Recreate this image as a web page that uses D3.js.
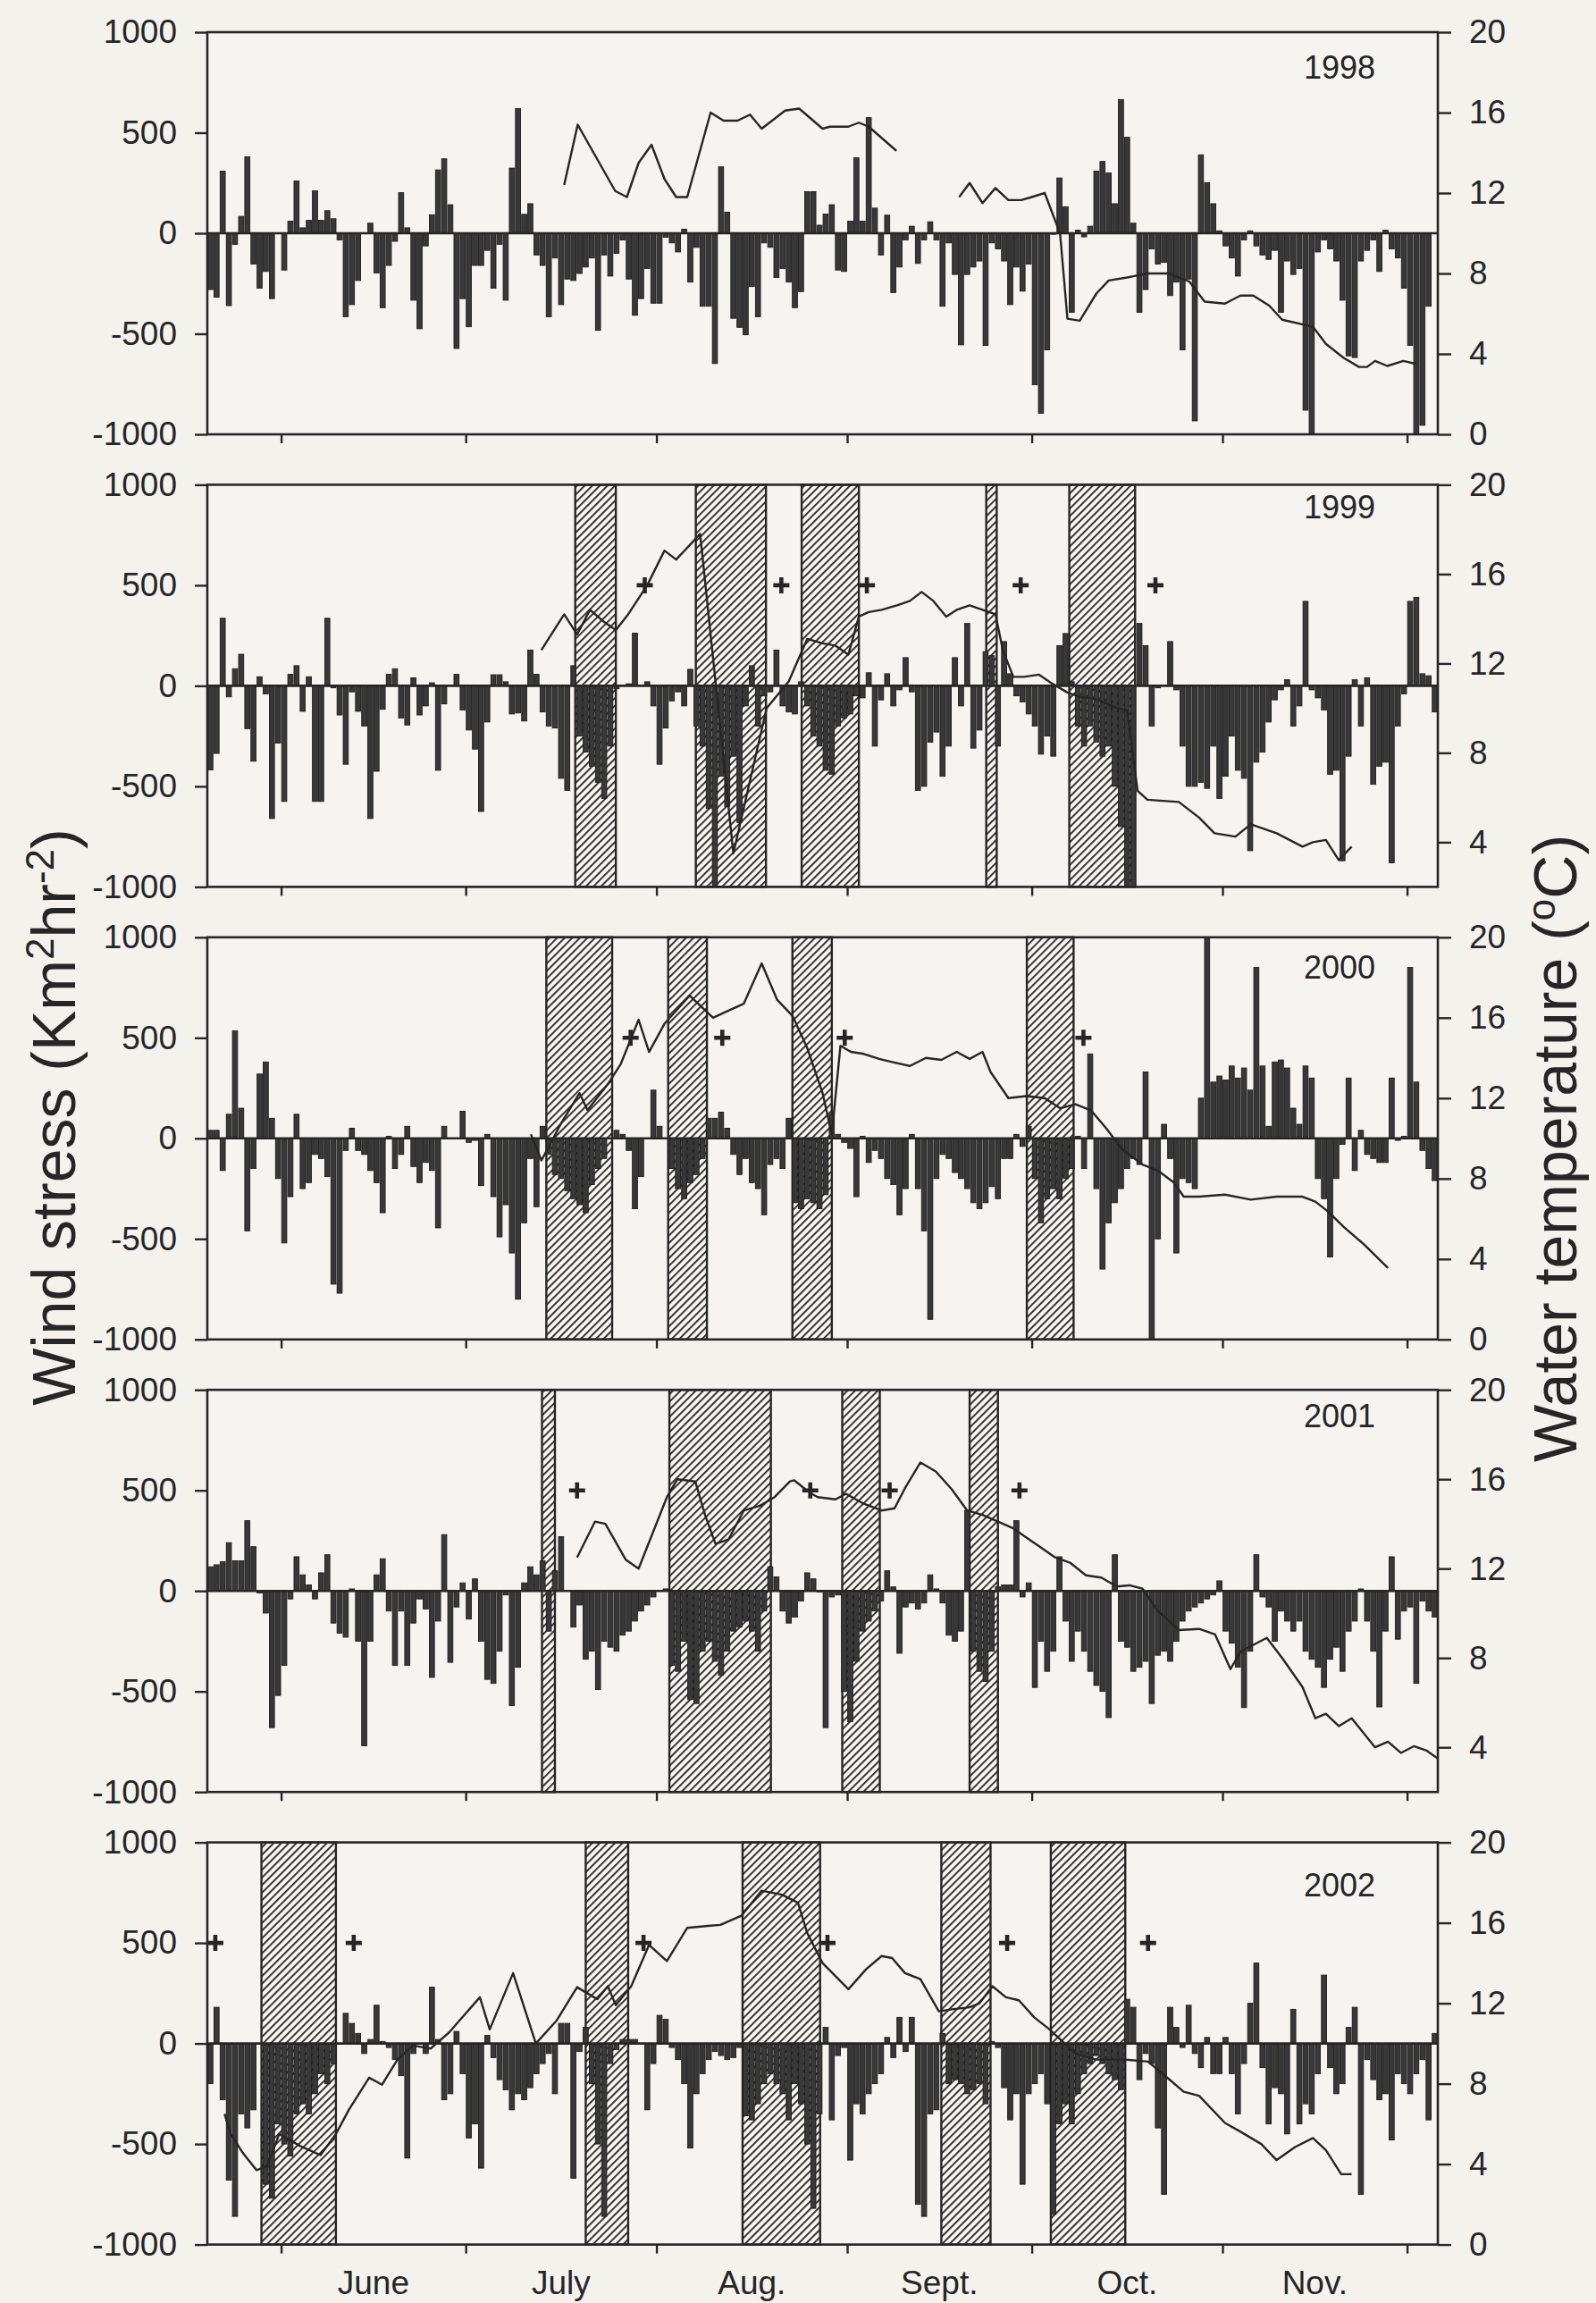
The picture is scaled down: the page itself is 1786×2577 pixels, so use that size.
<!DOCTYPE html>
<html>
<head>
<meta charset="utf-8">
<script src="https://cdn.jsdelivr.net/npm/d3@7"></script>
<style>
  body { margin: 0; background: #f3f2ed; }
  svg { display: block; font-family: "Liberation Sans", Arial, Helvetica, sans-serif; }
</style>
</head>
<body>
<div id="chart"></div>
<script>
// ---- data -------------------------------------------------------------
// Daily wind stress (Km2 hr-2), one value per day starting 20 May (day of year 140)
const firstDay = 140;

const years = [1998, 1999, 2000, 2001, 2002];

const wind1998 = [
  -280,-318,309,-360,-55,84,380,-153,-273,-190,
  -325,0,-183,60,260,27,64,211,64,112,
  72,-33,-415,-355,-235,0,50,-198,-370,-160,
  -40,202,27,-333,-475,-63,92,315,370,142,
  -573,-325,-465,-160,-160,-85,-273,-55,-333,324,
  620,94,147,-108,-160,-415,-123,-355,-228,-235,
  -200,-168,-123,-483,-108,-213,-100,-33,-228,-408,
  -325,-175,-348,-348,-20,-48,-93,20,-243,-70,
  -363,-363,-648,330,105,-423,-468,-505,-265,-415,
  -48,-70,-220,-175,-243,
  -370,-290,207,207,40,95,142,-183,-190,60,
  375,60,575,125,-108,90,-295,-168,-33,35,
  -150,-33,57,-33,-363,-48,-205,-555,-205,-168,
  -138,-558,-48,-78,-138,-355,-168,-288,-153,-753,
  -895,-580,-5,275,132,-393,15,-18,35,309,
  357,300,147,665,477,50,-393,-280,-78,-153,
  -145,-310,-243,-580,-228,-933,390,252,147,12,
  -63,-123,-213,-33,12,-63,-108,-130,-85,-393,
  -138,-205,-175,-880,-993,-93,-33,-78,-138,-333,
  -610,-618,-138,-85,-33,-190,15,-78,-123,-273,
  -558,-993,-955,-363
];

const wind1999 = [
  -418,-336,336,-55,85,157,-213,-375,45,-40,
  -660,-285,-575,57,100,-127,45,-575,-575,336,
  -10,-145,-390,-30,-127,-200,-660,-425,-117,57,
  85,-160,-195,40,-145,-100,15,-420,-90,0,
  57,-120,-220,-315,-625,-180,55,55,20,-140,
  -135,-175,178,57,-130,-200,-210,-460,-520,100,
  -250,-330,-400,-480,-560,-300,-15,0,10,262,
  0,20,-100,-390,-210,-75,-30,-100,82,-200,
  -300,-610,-1000,-450,-600,-350,-680,-100,100,-200,
  -50,-30,178,-100,-130,
  -140,20,-100,-250,-300,-420,-440,-200,-160,-140,
  -50,-60,65,-300,-70,60,-100,-20,140,-30,
  -520,-500,-280,-230,-450,-300,140,-100,310,-310,
  -220,170,150,-300,220,60,-50,-80,-140,-200,
  -340,-250,-350,200,260,20,-200,-300,-200,-280,
  -350,-300,-500,-700,-1000,-1000,310,200,-200,-10,
  0,220,-20,-300,-500,-500,-480,-510,-300,-560,
  -450,-250,-420,-460,-820,-380,-330,-180,-70,-20,
  30,-200,-100,420,-20,-60,-120,-440,-420,-870,
  -350,30,-200,40,-490,-400,-380,-880,-200,-40,
  420,440,60,50,-130
];

const wind2000 = [
  40,40,-160,120,535,150,-460,-150,320,380,
  100,-200,-520,-290,120,-250,-220,-80,-100,-190,
  -725,-770,-60,50,-60,-80,-160,-220,-370,10,
  -150,-80,60,-140,-220,-120,-160,-445,60,0,
  0,135,-20,-10,-235,20,-290,-490,-330,-570,
  -800,-420,-100,-340,60,-80,-180,-200,-260,-300,
  -330,-370,-230,-150,-100,0,40,20,-60,-350,
  -190,0,240,60,0,-150,-250,-300,-220,-180,
  -100,100,100,130,50,-80,-180,-100,-220,-250,
  -380,-130,-100,-150,100,
  -320,-350,-300,-320,-350,-280,120,20,-20,-50,
  -290,10,-120,-60,-100,-200,-230,-380,-250,20,
  -250,-460,-900,-200,-80,-100,-170,-200,-250,-320,
  -350,-320,-240,-300,-100,-100,20,-40,60,-200,
  -420,-300,-250,-300,-200,-150,10,-150,420,-250,
  -650,-420,-320,-250,-150,-100,-130,330,-1000,-500,
  70,-100,-570,-200,-220,-250,200,1000,280,310,
  290,360,300,350,240,850,360,60,380,390,
  350,150,70,360,300,-200,-300,-590,-200,-30,
  300,-160,40,-80,-100,-120,-120,300,-10,10,
  850,280,-60,-150,-210
];

const wind2001 = [
  120,130,145,240,150,150,350,220,-10,-110,
  -680,-520,-370,-40,170,80,30,-40,90,180,
  -160,-210,-230,10,-250,-770,-250,80,160,-100,
  -370,-100,-370,-160,-40,-90,-430,-150,280,-355,
  -80,40,-140,60,-250,-440,-460,-300,-20,-570,
  -380,40,120,80,150,-200,100,270,0,-180,
  -70,-340,-300,-490,-250,-280,-300,-220,-200,-150,
  -100,-70,-30,0,10,-370,-400,-250,-540,-560,
  -300,-250,-350,-420,-300,-200,-180,-150,-200,-300,
  -100,120,70,-100,-160,
  -130,-50,90,60,-5,-680,-30,-20,-500,-650,
  -350,-200,-150,-100,-50,100,20,-310,-80,-60,
  -90,-60,80,10,-60,-220,-250,-200,400,-300,
  -400,-450,-300,20,30,30,350,-30,40,-480,
  -250,-400,-300,170,-150,-350,-200,-300,-400,-470,
  -500,-630,180,-250,-280,-400,-380,-350,-560,-320,
  -300,-350,-250,-150,-100,-80,-60,-40,-20,50,
  -200,-260,-380,-580,-300,180,-30,-80,-250,-100,
  -150,-200,-150,-300,-340,-380,-480,-340,-280,-400,
  -200,-150,10,-150,-300,-577,-200,170,-240,-100,
  -80,-460,-50,-100,-130
];

const wind2002 = [
  -200,180,-280,-680,-860,-350,-420,-330,0,-700,
  -770,-400,-500,-560,-350,-300,-350,-250,-150,-200,
  -100,0,150,100,50,-50,20,190,10,-20,
  -80,-160,-570,-50,0,-50,280,20,-280,-250,
  60,-150,-470,-400,-620,40,-70,-180,-230,-330,
  -250,-280,-220,-150,-100,-50,-250,100,100,-670,
  -40,80,-200,-500,-860,-100,-30,20,20,20,
  0,-330,-100,140,120,-20,-80,-200,-520,-250,
  -150,-80,-40,-60,-80,-70,-20,-360,-380,-300,
  -200,-150,-200,-250,-380,
  -200,-300,-500,-820,-350,80,-380,-60,-20,-580,
  -300,-350,-250,-200,-150,30,-70,130,-40,130,
  -800,-860,-350,-330,50,-200,-180,-200,-250,-230,
  -200,-300,10,-20,-220,-380,-250,-700,-250,-200,
  -150,-300,-850,-400,-300,-400,-250,-150,-100,-60,
  -100,-150,-180,-230,220,180,-180,-50,-100,-420,
  -750,180,80,-20,190,-50,-120,30,-150,-150,
  30,-150,-350,-100,200,400,-120,-400,-220,-250,
  -450,170,-400,-300,-350,-150,340,-120,-250,-200,
  80,180,-750,-80,-180,-280,-250,-480,-150,-200,
  -250,-150,-80,-380,50
];

// Water temperature (deg C): [day of year, temperature]; null = gap in record
const temp1998 = [
  [198.0,12.4],[200.2,15.4],[206.3,12.1],[208.2,11.8],[210.1,13.5],[212.2,14.4],
  [214.3,12.7],[216.2,11.8],[218.0,11.8],[221.8,16.0],[223.9,15.6],[226.2,15.6],
  [228.2,15.9],[230.1,15.2],[231.8,15.6],[233.9,16.1],[236.2,16.2],[240.0,15.2],
  [241.2,15.3],[244.2,15.3],[245.9,15.5],[247.5,15.3],[252.0,14.1],
  null,
  [262.2,11.8],[263.9,12.5],[266.0,11.5],[268.1,12.25],[270.2,11.65],[272.3,11.65],
  [274.0,11.8],[276.1,12.0],[278.6,10.0],[279.8,5.75],[281.8,5.65],[284.5,7.0],
  [286.5,7.65],[289.5,7.8],[292.8,8.0],[296.2,8.0],[299.6,7.6],[302.1,6.6],
  [305.4,6.5],[307.9,6.9],[310.0,6.9],[312.6,6.4],[314.7,5.7],[319.7,5.35],
  [321.8,4.5],[324.7,3.8],[327.2,3.35],[328.5,3.35],[329.8,3.65],[331.8,3.4],
  [334.4,3.65],[336.5,3.5]
];

const temp1999 = [
  [194.3,12.6],[198.0,14.2],[200.1,13.3],[202.2,14.4],[204.3,13.9],[206.4,13.5],
  [208.4,14.2],[211.5,15.5],[214.3,17.05],[216.2,16.65],[220.1,17.8],[225.5,3.5],
  [230.9,10.0],[234.5,11.2],[237.5,13.1],[240.0,12.9],[242.1,12.8],[244.2,12.4],
  [245.9,14.1],[247.5,14.3],[249.6,14.4],[252.1,14.6],[254.2,14.8],[256.1,15.2],
  [258.0,14.8],[260.1,14.1],[261.8,14.4],[263.9,14.6],[266.0,14.4],[268.1,14.2],
  [269.3,12.6],[271.0,11.4],[272.7,11.4],[275.2,11.5],[277.3,11.1],[279.8,10.7],
  [281.9,10.5],[284.5,10.4],[287.8,10.0],[289.5,9.9],[291.2,6.3],[292.8,5.9],
  [297.9,5.8],[301.2,5.1],[303.7,4.4],[307.1,4.25],[309.6,4.8],[313.8,4.4],
  [318.0,3.8],[319.7,4.0],[321.8,4.1],[323.9,3.2],[326.0,3.8]
];

const temp2000 = [
  [192.6,10.2],[194.3,8.9],[197.6,10.8],[200.5,12.25],[201.8,11.4],[205.1,12.7],
  [207.2,13.7],[210.1,15.9],[211.8,14.3],[214.3,15.7],[218.4,17.1],[222.2,16.0],
  [224.3,16.3],[227.2,16.7],[230.1,18.7],[232.6,16.9],[235.1,16.1],[237.5,14.5],
  [240.0,12.25],[241.5,10.2],[242.9,14.6],[244.6,14.3],[246.7,14.2],[249.2,13.95],
  [251.3,13.8],[254.2,13.6],[256.8,14.0],[259.3,13.9],[261.8,14.3],[263.9,13.95],
  [266.0,14.3],[267.3,13.3],[270.2,12.0],[273.1,12.1],[276.1,12.0],[278.6,11.5],
  [281.1,11.7],[283.6,11.4],[286.1,10.5],[288.7,9.45],[292.0,8.7],[294.5,8.4],
  [297.1,7.8],[298.7,7.1],[301.2,7.1],[305.4,7.2],[309.6,6.95],[313.8,7.1],
  [318.0,7.1],[320.1,6.85],[322.2,6.35],[324.7,5.6],[328.1,4.7],[331.9,3.55]
];

const temp2001 = [
  [200.1,12.5],[203.0,14.1],[204.7,14.0],[208.0,12.4],[210.1,12.0],[214.7,15.2],
  [216.4,16.0],[219.3,15.9],[220.9,14.4],[222.6,13.1],[224.7,13.3],[227.2,14.6],
  [229.7,14.8],[232.2,15.2],[234.7,15.9],[235.4,15.95],[237.9,15.4],[239.2,15.2],
  [242.1,15.1],[243.8,15.35],[246.7,14.9],[249.6,14.6],[251.7,14.7],[253.4,15.6],
  [255.9,16.75],[258.4,16.35],[261.0,15.55],[263.5,14.6],[266.0,14.4],[268.5,14.1],
  [271.0,13.8],[273.6,13.3],[275.2,13.0],[277.8,12.5],[280.3,12.25],[282.8,11.7],
  [285.3,11.6],[287.8,11.2],[289.9,11.25],[292.0,11.1],[294.5,10.1],[297.9,9.25],
  [301.2,9.3],[303.8,9.05],[306.3,7.5],[308.0,8.3],[312.2,8.9],[314.7,8.0],
  [318.0,6.7],[320.1,5.3],[321.8,5.5],[323.9,4.95],[326.0,5.3],[329.8,4.0],
  [331.9,4.25],[334.0,3.75],[336.1,4.05],[338.2,3.85],[340.0,3.5]
];

const temp2002 = [
  [142.8,6.5],[143.8,5.5],[145.9,4.5],[148.0,3.7],[149.7,3.9],[151.7,5.5],
  [155.1,4.9],[158.4,4.45],[160.9,5.5],[163.0,6.7],[166.3,8.3],[168.4,7.95],
  [170.9,9.2],[173.4,9.9],[176.3,9.75],[179.3,10.55],[184.3,12.3],[185.9,10.7],
  [189.7,13.5],[193.4,10.0],[196.8,11.15],[200.1,12.8],[203.4,12.2],[205.1,12.85],
  [206.4,11.9],[208.9,12.85],[211.8,14.9],[214.7,14.1],[218.0,15.75],[221.4,15.85],
  [223.4,15.9],[226.8,16.35],[230.1,17.6],[233.4,17.4],[236.0,17.0],[237.5,15.5],
  [240.0,14.0],[244.2,12.7],[247.1,13.7],[249.6,14.35],[251.3,14.25],[253.4,13.5],
  [255.9,13.2],[258.9,11.6],[261.0,11.7],[263.9,11.8],[265.5,12.0],[267.6,12.85],
  [269.8,12.3],[271.9,12.15],[274.4,11.3],[276.9,10.7],[281.1,9.5],[284.5,9.2],
  [289.1,9.2],[292.9,9.1],[296.6,8.15],[298.7,7.6],[301.2,7.4],[305.4,6.05],
  [308.0,5.6],[311.3,5.0],[313.8,4.2],[316.8,4.85],[319.7,5.3],[321.8,4.7],
  [324.3,3.5],[326.0,3.5]
];

// Hatched periods [start day, end day] and "+" markers (day of year)
const periods1998 = [];
const periods1999 = [[199.8,206.4],[219.4,230.8],[236.6,245.9],[266.6,268.3],[280.1,290.8]];
const periods2000 = [[195.1,205.8],[214.9,221.2],[235.1,241.5],[273.2,280.8]];
const periods2001 = [[194.4,196.5],[215.1,231.6],[243.2,249.3],[263.9,268.5]];
const periods2002 = [[148.8,160.9],[201.5,208.4],[227.0,239.6],[259.3,267.3],[277.1,289.2]];

const plus1998 = [];
const plus1999 = [211.1,233.3,247.2,272.2,294.1];
const plus2000 = [208.8,223.7,243.6,282.4];
const plus2001 = [200.1,238.0,250.9,272.0];
const plus2002 = [141.3,163.8,210.9,240.8,270.0,292.9];

// Axes
const dayDomain = [140, 340];             // 20 May - 6 Dec
const monthStarts = [152, 182, 213, 244, 274, 305, 335];
const monthNames = ['June', 'July', 'Aug.', 'Sept.', 'Oct.', 'Nov.'];
const windTicks = [-1000, -500, 0, 500, 1000];
const tempTicks = [0, 4, 8, 12, 16, 20];
const tempDomains = [[0,20],[2,20],[0,20],[2,20],[0,20]];

const windByYear = [wind1998, wind1999, wind2000, wind2001, wind2002];
const tempByYear = [temp1998, temp1999, temp2000, temp2001, temp2002];
const periodsByYear = [periods1998, periods1999, periods2000, periods2001, periods2002];
const plusByYear = [plus1998, plus1999, plus2000, plus2001, plus2002];

// ---- layout -----------------------------------------------------------
const width = 1786, height = 2577;
const plotLeft = 232, plotRight = 1609;
const panelH = 450, panelStep = 506.4, firstTop = 36;
const yearDy = [52, 38, 46, 42, 60];
const ink = '#262626';

const svg = d3.select('#chart').append('svg')
    .attr('width', width)
    .attr('height', height);

svg.append('rect').attr('width', width).attr('height', height).attr('fill', '#f3f2ed');

// diagonal hatch
const pat = svg.append('defs').append('pattern')
    .attr('id', 'hatch')
    .attr('patternUnits', 'userSpaceOnUse')
    .attr('width', 6)
    .attr('height', 6)
    .attr('patternTransform', 'rotate(45)');
pat.append('rect').attr('width', 6).attr('height', 6).attr('fill', '#f6f5f1');
pat.append('line')
    .attr('x1', 0.9).attr('y1', 0).attr('x2', 0.9).attr('y2', 6)
    .attr('stroke', '#232323').attr('stroke-width', 1.8);

const x = d3.scaleLinear().domain(dayDomain).range([plotLeft, plotRight]);
const dayW = x(1) - x(0);

years.forEach((year, i) => {
  const top = firstTop + i * panelStep;
  const bottom = top + panelH;

  const yWind = d3.scaleLinear().domain([-1000, 1000]).range([bottom, top]);
  const yTemp = d3.scaleLinear().domain(tempDomains[i]).range([bottom, top]);

  const g = svg.append('g').attr('class', 'panel');

  g.append('rect')
      .attr('x', plotLeft).attr('y', top)
      .attr('width', plotRight - plotLeft).attr('height', panelH)
      .attr('fill', '#f5f4f0');

  // upwelling periods
  g.selectAll('.period')
    .data(periodsByYear[i])
    .join('rect')
      .attr('class', 'period')
      .attr('x', d => x(d[0]))
      .attr('width', d => x(d[1]) - x(d[0]))
      .attr('y', top)
      .attr('height', panelH)
      .attr('fill', 'url(#hatch)')
      .attr('stroke', ink)
      .attr('stroke-width', 2.4);

  // wind stress bars
  g.selectAll('.bar')
    .data(windByYear[i])
    .join('rect')
      .attr('class', 'bar')
      .attr('x', (d, k) => x(firstDay + k) + 0.6)
      .attr('width', dayW - 1.2)
      .attr('y', d => yWind(Math.max(0, d)))
      .attr('height', d => Math.abs(yWind(d) - yWind(0)))
      .attr('fill', '#383838')
      .attr('stroke', '#1c1c1c')
      .attr('stroke-width', 0.9);

  // zero line
  g.append('line')
      .attr('x1', plotLeft).attr('x2', plotRight)
      .attr('y1', yWind(0)).attr('y2', yWind(0))
      .attr('stroke', ink).attr('stroke-width', 2.6);

  // water temperature
  const line = d3.line()
      .defined(d => d !== null)
      .x(d => x(d[0]))
      .y(d => yTemp(d[1]));

  g.append('path')
      .datum(tempByYear[i])
      .attr('d', line)
      .attr('fill', 'none')
      .attr('stroke', ink)
      .attr('stroke-width', 2.4)
      .attr('stroke-linejoin', 'round');

  // "+" markers
  g.selectAll('.plus')
    .data(plusByYear[i])
    .join('path')
      .attr('class', 'plus')
      .attr('transform', d => `translate(${x(d)},${yWind(500)})`)
      .attr('d', 'M-9,0H9M0,-9V9')
      .attr('stroke', ink)
      .attr('stroke-width', 4.6);

  // frame
  g.append('rect')
      .attr('x', plotLeft).attr('y', top)
      .attr('width', plotRight - plotLeft).attr('height', panelH)
      .attr('fill', 'none')
      .attr('stroke', ink)
      .attr('stroke-width', 2.6);

  // axes
  const left = g.append('g')
      .attr('transform', `translate(${plotLeft},0)`)
      .call(d3.axisLeft(yWind).tickValues(windTicks).tickSize(14).tickPadding(20)
        .tickFormat(d => String(d)));

  const right = g.append('g')
      .attr('transform', `translate(${plotRight},0)`)
      .call(d3.axisRight(yTemp)
        .tickValues(tempTicks.filter(t => t >= tempDomains[i][0]))
        .tickSize(15).tickPadding(20)
        .tickFormat(d => String(d)));

  const bottomAxis = g.append('g')
      .attr('transform', `translate(0,${bottom})`)
      .call(d3.axisBottom(x).tickValues(monthStarts).tickSize(10).tickFormat(''));

  [left, right, bottomAxis].forEach(a => {
    a.select('.domain').remove();
    a.selectAll('.tick line').attr('stroke', ink).attr('stroke-width', 2.4);
    a.selectAll('.tick text')
        .attr('fill', ink)
        .style('font-size', '37px')
        .style('font-family', '"Liberation Sans", Arial, sans-serif');
  });

  g.append('text')
      .attr('x', 1539)
      .attr('y', top + yearDy[i])
      .attr('text-anchor', 'end')
      .attr('fill', ink)
      .style('font-size', '36px')
      .text(year);

  if (i === years.length - 1) {
    g.selectAll('.month')
      .data(monthNames)
      .join('text')
        .attr('class', 'month')
        .attr('x', (d, k) => x((monthStarts[k] + monthStarts[k + 1]) / 2))
        .attr('y', 2567)
        .attr('text-anchor', 'middle')
        .attr('fill', ink)
        .style('font-size', '37px')
        .text(d => d);
  }
});

// axis titles
const leftTitle = svg.append('text')
    .attr('transform', 'translate(84,1250) rotate(-90)')
    .attr('text-anchor', 'middle')
    .attr('fill', ink)
    .style('font-size', '68px');
leftTitle.append('tspan').text('Wind stress (Km');
leftTitle.append('tspan').attr('baseline-shift', 'super').style('font-size', '44px').text('2');
leftTitle.append('tspan').text('hr');
leftTitle.append('tspan').attr('baseline-shift', 'super').style('font-size', '44px').text('-2');
leftTitle.append('tspan').text(')');

const rightTitle = svg.append('text')
    .attr('transform', 'translate(1764,1285) rotate(-90)')
    .attr('text-anchor', 'middle')
    .attr('fill', ink)
    .style('font-size', '68px');
rightTitle.append('tspan').text('Water temperature (');
rightTitle.append('tspan').attr('baseline-shift', 'super').style('font-size', '44px').text('o');
rightTitle.append('tspan').text('C)');
</script>
</body>
</html>
